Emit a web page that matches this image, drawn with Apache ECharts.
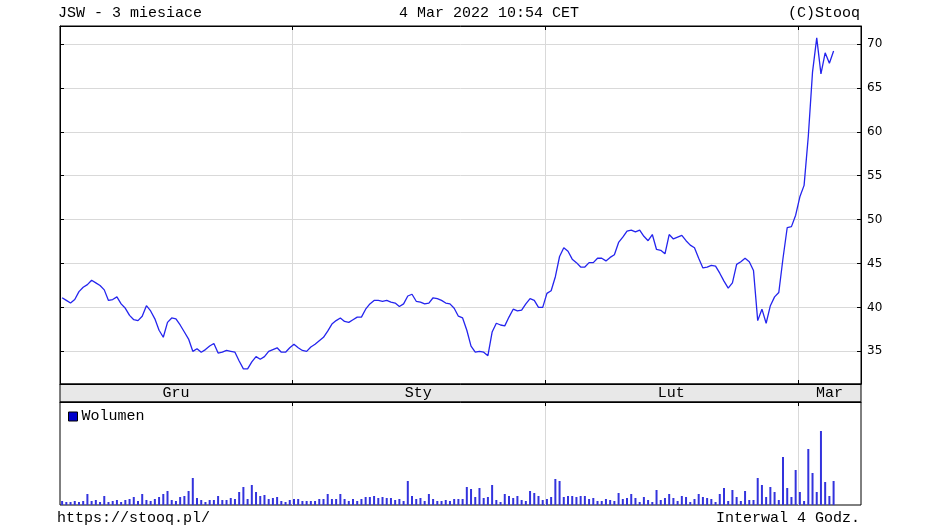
<!DOCTYPE html>
<html>
<head>
<meta charset="utf-8">
<script src="https://cdn.jsdelivr.net/npm/echarts@6/dist/echarts.min.js"></script>
<style>
html,body{margin:0;padding:0;background:#fff;}
#chart{width:929px;height:532px;}
</style>
</head>
<body>
<div id="chart"></div>
<script>
// ---- data (4-hour intervals, JSW, ~3 months) ----
const closes = [
41.1,40.8,40.5,40.9,41.8,42.3,42.6,43.1,42.8,42.5,
42.0,40.8,40.9,41.2,40.4,39.9,39.1,38.6,38.5,39.0,
40.2,39.6,38.7,37.4,36.6,38.3,38.8,38.7,38.0,37.2,
36.4,35.0,35.3,34.9,35.2,35.6,35.9,34.8,34.9,35.1,
35.0,34.9,33.9,33.0,33.0,33.8,34.4,34.1,34.4,35.0,
35.2,35.4,34.9,34.9,35.4,35.8,35.4,35.1,35.0,35.5,
35.8,36.2,36.6,37.3,38.1,38.5,38.8,38.4,38.3,38.6,
38.9,38.9,39.8,40.4,40.8,40.8,40.7,40.8,40.6,40.5,
40.1,40.4,41.3,41.5,40.7,40.6,40.4,40.5,41.1,41.0,
40.8,40.5,40.4,39.9,39.0,38.8,37.4,35.6,34.9,35.0,
34.9,34.5,37.2,38.2,38.0,37.9,38.9,39.8,39.6,39.7,
40.4,41.0,40.8,40.0,40.0,41.6,41.9,43.5,45.8,46.8,
46.4,45.5,45.1,44.6,44.6,45.1,45.1,45.6,45.6,45.3,
45.7,46.0,47.4,48.0,48.7,48.8,48.6,48.8,48.1,47.6,
48.3,46.6,46.5,46.1,48.3,47.8,48.0,48.2,47.6,47.1,
46.8,45.6,44.5,44.6,44.8,44.7,43.9,43.0,42.2,42.8,
44.9,45.2,45.6,45.2,44.2,38.5,39.8,38.2,40.2,41.2,
41.7,45.6,49.1,49.2,50.5,52.6,53.9,59.5,66.8,70.7,
66.6,69.0,67.8,69.2
];
const volumes = [
4,3,3,4,3,4,11,4,5,3,
9,3,4,5,3,5,6,8,4,11,
5,4,6,8,11,14,5,4,8,9,
14,27,7,5,3,5,5,9,5,5,
7,6,13,18,6,20,13,9,10,6,
7,8,4,3,5,6,6,4,4,4,
4,6,6,11,6,6,11,6,4,6,
4,6,8,8,9,7,8,7,7,5,
6,4,24,9,6,7,4,11,6,4,
4,5,4,6,6,6,18,16,8,17,
7,8,20,5,3,11,9,7,9,5,
4,14,12,9,5,6,8,26,24,8,
9,9,8,9,9,6,7,4,4,6,
5,4,12,6,7,11,7,3,8,5,
3,15,5,7,11,7,4,9,8,3,
6,11,8,7,6,3,11,17,4,15,
8,4,14,5,5,27,20,8,18,13,
5,48,17,8,35,13,4,56,32,13,
74,23,9,24
];
const totalSlots = 190;                 // 4h slots covered by the time axis
const monthStarts = [55, 115, 175];     // slot index where Sty, Lut, Mar begin
const monthLabels = ['Gru', 'Sty', 'Lut', 'Mar'];
const monthLabelPos = [27.5, 85, 145, 182.5];
const priceTicks = [35, 40, 45, 50, 55, 60, 65, 70];
const priceMin = 31.28, priceMax = 72.05;
const volumeMax = 103;

const MONO = "'Liberation Mono', 'DejaVu Sans Mono', monospace";
const SANS = "'DejaVu Sans', sans-serif";
const gridCol = '#d9d9d9';
const PLOT_W = 801;

const lineData = closes.map((v, i) => [i + 0.5, v]);
const volData = volumes.map((v, i) => [i + 0.5, v]);

const chart = echarts.init(document.getElementById('chart'), null, {renderer: 'canvas'});
const titleStyle = {fontFamily: MONO, fontSize: 15, fontWeight: 'normal', color: '#000'};
const axisLineStyle = {show: true, onZero: false, lineStyle: {color: '#000'}};
const option = {
  animation: false,
  backgroundColor: '#fff',
  title: [
    {text: 'JSW - 3 miesiace', left: 58, top: 6, padding: 0, textStyle: titleStyle},
    {text: '4 Mar 2022 10:54 CET', left: 399, top: 6, padding: 0, textStyle: titleStyle},
    {text: '(C)Stooq', right: 69, top: 6, padding: 0, textStyle: titleStyle},
    {text: 'https://stooq.pl/', left: 57, top: 511, padding: 0, textStyle: titleStyle},
    {text: 'Interwal 4 Godz.', right: 69, top: 511, padding: 0, textStyle: titleStyle}
  ],
  legend: {
    data: ['Wolumen'], left: 68, top: 409, padding: 0,
    icon: 'rect', itemWidth: 9, itemHeight: 9, itemGap: 5,
    itemStyle: {color: '#0000cc', borderColor: '#000', borderWidth: 1},
    textStyle: {fontFamily: MONO, fontSize: 15, color: '#000', padding: [0, 0, 0, -1]},
    selectedMode: false
  },
  grid: [
    {left: 60, top: 26, width: PLOT_W, height: 358, show: true, borderColor: '#000', borderWidth: 1, backgroundColor: '#fff'},
    {left: 60, top: 384, width: PLOT_W, height: 18, show: true, borderColor: '#000', borderWidth: 1, backgroundColor: '#e8e8e8'},
    {left: 60, top: 402, width: PLOT_W, height: 103, show: true, borderColor: '#000', borderWidth: 1, backgroundColor: '#fff'}
  ],
  xAxis: [
    {
      gridIndex: 0, type: 'value', min: 0, max: totalSlots, position: 'bottom',
      axisLine: axisLineStyle,
      axisTick: {show: true, inside: true, length: 4, customValues: monthStarts, lineStyle: {color: '#000'}},
      splitLine: {show: true, lineStyle: {color: gridCol, width: 1}},
      axisLabel: {
        show: true, customValues: monthLabelPos, margin: 2,
        fontFamily: MONO, fontSize: 15, color: '#000',
        formatter: v => monthLabels[monthLabelPos.indexOf(v)] || ''
      }
    },
    {
      gridIndex: 0, type: 'value', min: 0, max: totalSlots, position: 'top',
      axisLine: axisLineStyle,
      axisTick: {show: true, inside: true, length: 4, customValues: monthStarts, lineStyle: {color: '#000'}},
      splitLine: {show: false}, axisLabel: {show: false}
    },
    {gridIndex: 1, type: 'value', min: 0, max: totalSlots, show: false},
    {
      gridIndex: 2, type: 'value', min: 0, max: totalSlots, position: 'top',
      axisLine: axisLineStyle,
      axisTick: {show: true, inside: true, length: 4, customValues: monthStarts, lineStyle: {color: '#000'}},
      splitLine: {show: true, lineStyle: {color: gridCol, width: 1}},
      axisLabel: {show: false}
    }
  ],
  yAxis: [
    {
      gridIndex: 0, type: 'value', position: 'right', min: priceMin, max: priceMax,
      axisLine: axisLineStyle,
      axisTick: {show: true, inside: true, length: 4, customValues: priceTicks, lineStyle: {color: '#000'}},
      axisLabel: {show: true, customValues: priceTicks, margin: 6, fontFamily: SANS, fontSize: 12, color: '#000'},
      splitLine: {show: true, lineStyle: {color: gridCol, width: 1}}
    },
    {
      // tick marks along the left frame, pointing into the plot
      gridIndex: 0, type: 'value', position: 'left', min: priceMin, max: priceMax,
      axisLine: axisLineStyle,
      axisTick: {show: true, inside: true, length: 4, customValues: priceTicks, lineStyle: {color: '#000'}},
      axisLabel: {show: false}, splitLine: {show: false}
    },
    {gridIndex: 1, type: 'value', show: false},
    {gridIndex: 2, type: 'value', min: 0, max: volumeMax, show: false}
  ],
  series: [
    {
      name: 'JSW', type: 'line', xAxisIndex: 0, yAxisIndex: 0, data: lineData,
      symbol: 'none', lineStyle: {color: '#2424ee', width: 1.3}, z: 5
    },
    {
      name: 'Wolumen', type: 'bar', xAxisIndex: 3, yAxisIndex: 3, data: volData,
      barWidth: 2, itemStyle: {color: '#3333dd'}
    }
  ]
};
chart.setOption(option);
</script>
</body>
</html>
